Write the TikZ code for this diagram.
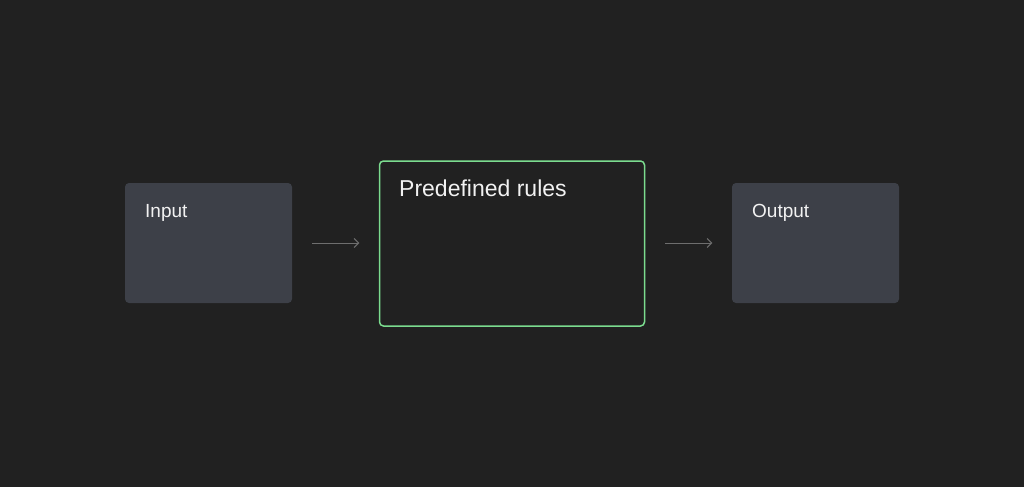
\documentclass[tikz,border=0pt]{standalone}
\usepackage{fontspec}
\setmainfont{Liberation Sans}
\usetikzlibrary{arrows.meta}
\definecolor{bg}{HTML}{212121}
\definecolor{boxfill}{HTML}{3D4048}
\definecolor{green}{HTML}{7BDC8F}
\definecolor{arrowgray}{HTML}{6E6E6E}
\definecolor{txt}{HTML}{F2F2F2}
\tikzset{
  grey box/.style={fill=boxfill, rounded corners=4pt, minimum width=167pt, minimum height=120pt, inner sep=0pt},
  rule box/.style={draw=green, line width=1.5pt, rounded corners=4pt, minimum width=265pt, minimum height=165pt, inner sep=0pt},
  flow/.style={draw=arrowgray, line width=1pt, shorten <=20pt, shorten >=19.5pt, -{Straight Barb[length=4.5pt,width=9pt,line width=1pt]}},
  small label/.style={anchor=base west, inner sep=0pt, text=txt, font=\fontsize{19pt}{22pt}\selectfont},
  big label/.style={anchor=base west, inner sep=0pt, text=txt, font=\fontsize{23pt}{27pt}\selectfont},
}
\begin{document}
\begin{tikzpicture}[x=1pt,y=-1pt]
  \fill[bg] (0,0) rectangle (1024,487);
  \useasboundingbox (0,0) rectangle (1024,487);
  % boxes
  \node[grey box] (inbox) at (208.5,243) {};
  \node[rule box] (rulebox) at (512,243.5) {};
  \node[grey box] (outbox) at (815.5,243) {};
  % labels
  \node[small label] (input) at (145,217) {Input};
  \node[big label] (rules) at (399,196.5) {Predefined rules};
  \node[small label] (output) at (752,217) {Output};
  % arrows
  \draw[flow] (inbox.east) -- (inbox.east -| rulebox.west);
  \draw[flow] (rulebox.east |- outbox.west) -- (outbox.west);
\end{tikzpicture}
\end{document}
